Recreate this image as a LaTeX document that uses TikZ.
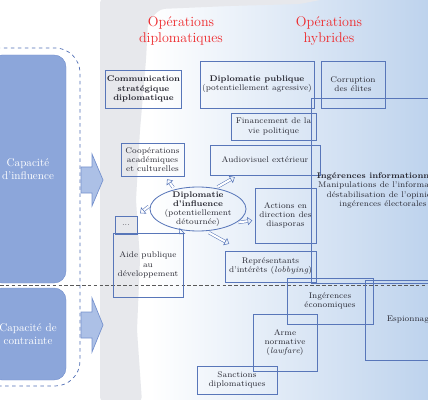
\documentclass[tikz,border=0pt]{standalone}
\usepackage{xcolor}
\usepackage{tikz}
\usetikzlibrary{positioning, arrows.meta, shapes.geometric}

\definecolor{bordure}{RGB}{88,118,185}
\definecolor{capbleu}{RGB}{140,166,218}
\definecolor{capbord}{RGB}{118,146,206}
\definecolor{contour}{RGB}{80,110,180}
\definecolor{fondbleu}{RGB}{190,211,237}
\definecolor{fondmilieu}{RGB}{230,238,247}
\definecolor{grisfond}{RGB}{231,232,236}
\definecolor{titrerouge}{RGB}{238,42,45}
\definecolor{flechefond}{RGB}{172,192,230}
\definecolor{texte}{RGB}{40,40,50}

\tikzset{
  boite/.style={draw=bordure, line width=0.7pt, align=center, text=texte,
    font=\fontsize{7}{7.8}\selectfont, inner sep=1pt},
  capacite/.style={fill=capbleu, draw=capbord, rounded corners=0.36cm, align=center,
    text=white, font=\fontsize{9.5}{11}\selectfont},
  titre/.style={text=titrerouge, align=center, font=\fontsize{12}{13.5}\selectfont},
  petite/.style={draw=bordure, double=white, double distance=1.8pt, line width=0.45pt,
    -{Triangle[open, length=4pt, width=7pt]}},
  grossefleche/.style={fill=flechefond, draw=capbord, line width=0.6pt},
}

\begin{document}
\begin{tikzpicture}[x=0.03cm, y=-0.03cm]
  \useasboundingbox (0,0) rectangle (428,400);
  \clip (0,0) rectangle (428,400);

  % fond
  \fill[white] (100,0) rectangle (150,400);
  \shade[left color=white, middle color=fondmilieu, right color=fondbleu] (150,0) rectangle (428,400);
  \fill[grisfond, rounded corners=4pt] (100,-2) -- (330,-2) -- (300,4) -- (230,6)
    -- (160,9) -- (148,22) -- (146,60) -- (140,130) -- (136,200) -- (140,260)
    -- (137,330) -- (142,402) -- (100,402) -- cycle;

  % cote gauche : capacites
  \draw[contour, dashed, line width=0.6pt, rounded corners=0.75cm] (-30,48) rectangle (80,386);
  \node[capacite, minimum width=2.28cm, minimum height=6.84cm] (influence) at (28,169)
    {Capacité\\d’influence};
  \node[capacite, minimum width=2.28cm, minimum height=2.76cm] (contrainte) at (28,334)
    {Capacité de\\contrainte};
  \foreach \yc/\hd in {180/26, 325/27}
    \filldraw[grossefleche] (81,\yc-13) -- (92,\yc-13) -- (92,\yc-\hd) -- (103,\yc)
      -- (92,\yc+\hd) -- (92,\yc+13) -- (81,\yc+13) -- cycle;
  \draw[dashed, draw=black!65, line width=0.5pt, dash pattern=on 3pt off 2pt] (0,285) -- (428,285);

  % titres
  \node[titre] (titdiplo) at (181,31) {Opérations\\diplomatiques};
  \node[titre] (tithybr) at (329,31) {Opérations\\hybrides};

  % operations diplomatiques
  \node[boite, minimum width=2.25cm, minimum height=1.14cm] (comm) at (143.5,89)
    {\textbf{Communication}\\\textbf{stratégique}\\\textbf{diplomatique}};
  \node[boite, minimum width=3.42cm, minimum height=1.41cm] (dippub) at (257,84.5)
    {\textbf{Diplomatie publique}\\(potentiellement agressive)};
  \node[boite, minimum width=1.89cm, minimum height=0.99cm] (coop) at (152.5,159.5)
    {Coopérations\\académiques\\et culturelles};
  \node[boite, minimum width=3.3cm, minimum height=0.9cm] (audio) at (265,160)
    {Audiovisuel extérieur};
  \node[boite, ellipse, minimum width=2.88cm, minimum height=1.32cm, inner sep=-2.5pt] (dinf) at (198,209)
    {\textbf{Diplomatie}\\\textbf{d’influence}\\(potentiellement\\détournée)};
  \node[boite, minimum width=0.66cm, minimum height=0.54cm] (etc) at (126,225) {...};
  \node[boite, minimum width=2.1cm, minimum height=1.92cm] (aide) at (148,265)
    {Aide publique\\au\\développement};
  \node[boite, minimum width=1.83cm, minimum height=1.65cm] (diaspo) at (285.5,215.5)
    {Actions en\\direction des\\diasporas};
  \node[boite, minimum width=2.73cm, minimum height=0.93cm] (lobby) at (270.5,266.5)
    {Représentants\\d’intérêts (\textit{lobbying})};

  % operations hybrides
  \node[boite, minimum width=1.92cm, minimum height=1.41cm] (corrup) at (353,84.5)
    {Corruption\\des élites};
  \node[boite, minimum width=2.55cm, minimum height=0.81cm] (financ) at (273.5,126.5)
    {Financement de la\\vie politique};
  \node[boite, minimum width=4.32cm, minimum height=5.55cm] (infor) at (383,190.5)
    {\textbf{Ingérences informationnelles}\\Manipulations de l’information,\\déstabilisation de l’opinion,\\ingérences électorales};
  \node[boite, minimum width=2.58cm, minimum height=1.38cm] (ingeco) at (330,301)
    {Ingérences\\économiques};
  \node[boite, minimum width=2.7cm, minimum height=2.4cm] (espion) at (410,320)
    {Espionnage};
  \node[boite, minimum width=1.92cm, minimum height=1.71cm] (lawfare) at (285,342.5)
    {Arme\\normative\\(\textit{lawfare})};
  \node[boite, minimum width=2.4cm, minimum height=0.84cm] (sanct) at (237,380)
    {Sanctions\\diplomatiques};

  % fleches autour de la diplomatie d'influence
  \draw[petite, shorten <=2pt, shorten >=3pt] (dinf.140) -- (coop);
  \draw[petite, shorten <=2pt, shorten >=3pt] (dinf.50) -- (audio);
  \draw[petite, shorten <=2pt, shorten >=3pt] (dinf.175) -- (etc);
  \draw[petite, shorten <=1pt, shorten >=-2pt] (dinf.235) -- (aide);
  \draw[petite, shorten <=3pt, shorten >=12pt] (dinf.290) -- (lobby);
  \draw[petite, shorten <=2pt, shorten >=2pt] (dinf.340) -- (diaspo);
\end{tikzpicture}
\end{document}
